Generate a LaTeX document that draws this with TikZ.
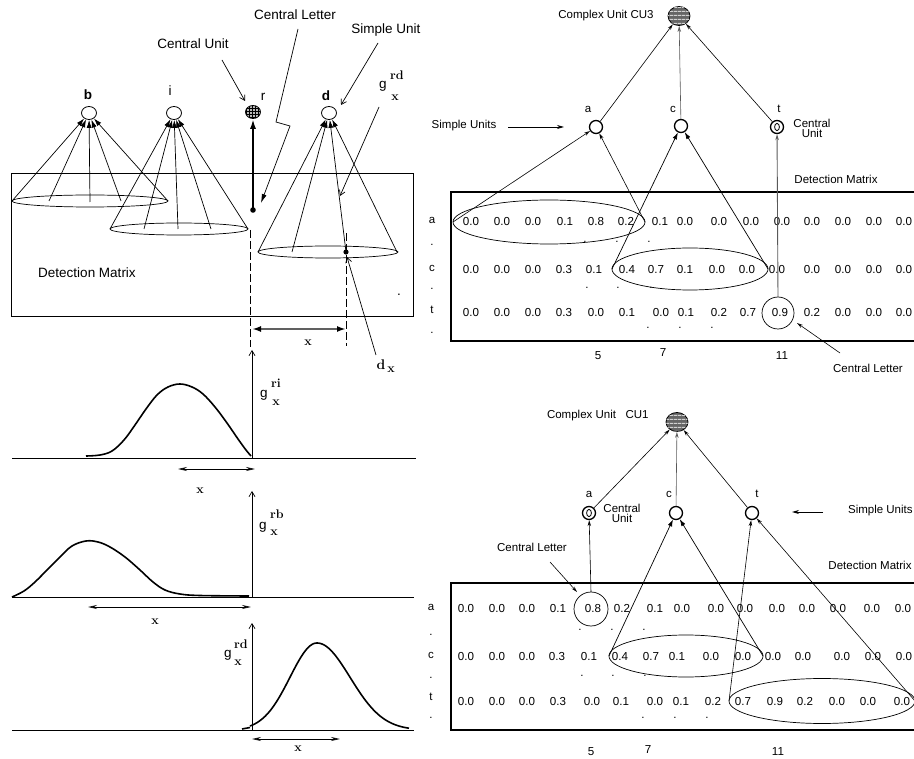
\documentclass[tikz,border=0pt]{standalone}
\usepackage{fontspec}
\newfontfamily\hv{Liberation Sans}
\usetikzlibrary{arrows.meta,patterns,patterns.meta,shapes.geometric}
\begin{document}
\begin{tikzpicture}[x=1pt,y=-1pt,line width=0.7pt,
  every node/.style={inner sep=0pt},
  lt/.style={font=\hv\fontsize{13.5}{14}\selectfont},
  ltb/.style={font=\hv\bfseries\fontsize{13.5}{14}\selectfont},
  rt/.style={font=\hv\fontsize{11.5}{12}\selectfont},
  num/.style={font=\hv\fontsize{11.6}{12}\selectfont},
  sb/.style={font=\bfseries\fontsize{12.5}{13}\selectfont},
  lunit/.style={draw,ellipse,minimum width=15pt,minimum height=13pt,line width=0.8pt},
  su/.style={draw,circle,minimum size=13pt,line width=1.3pt},
  cu/.style={draw,ellipse,minimum width=22pt,minimum height=19pt,line width=0.8pt,fill=black!60,
     postaction={pattern={Lines[angle=0,distance=4pt,line width=1.2pt]},pattern color=gray!35}},
  cone/.style={-{Latex[length=8pt,width=5pt]},line width=0.7pt},
  barb/.style={-{Straight Barb[length=5pt,width=6pt]},line width=0.7pt},
  sarr/.style={-{Stealth[open,length=6pt,width=3.5pt]},line width=0.6pt},
  farr/.style={-{Latex[length=7pt,width=4.5pt]},line width=0.7pt},
  dbl/.style={{Stealth[open,length=9pt,width=4pt]}-{Stealth[open,length=9pt,width=4pt]},line width=0.7pt},
  curve/.style={line width=1.6pt},
  dsh/.style={dash pattern=on 8pt off 3pt,line width=0.7pt}]
\useasboundingbox (0,0) rectangle (914,759);
\clip (0,0) rectangle (914,759);

%%%%%%%%%%%%%%%% LEFT PANEL %%%%%%%%%%%%%%%%
\node[lt] (tcl) at (295,15) {Central Letter};
\node[lt] (tsu) at (386,30) {Simple Unit};
\node[lt] (tcu) at (193,44) {Central Unit};

\node[lunit] (b) at (89,113) {};
\node[lunit] (i) at (174,113) {};
\node[lunit,fill=gray!55,postaction={pattern=grid}] (r) at (253,112) {};
\node[lunit] (d) at (329,113) {};
\node[ltb] (lb) at (88,95) {b};
\node[lt] (li) at (170,91) {i};
\node[lt] (lr) at (263,97) {r};
\node[ltb] (ld) at (326,96) {d};

% g^rd_x label top
\node[lt] (g1) at (383,86) {g};
\node[sb] (g1s) at (397,75) {rd};
\node[sb] (g1x) at (395,98) {x};

% detection matrix
\draw[line width=0.7pt] (11,173) rectangle (413,316);
\node[lt] (tdm) at (87,273) {Detection Matrix};
\node[lt] (sdot) at (399,295) {.};

% b cone
\draw (90,201) ellipse (78 and 6);
\foreach \p/\q in {12/201,49/201,90/202,121/201,168/201}
  \draw[cone] (\p,\q) -- (b);
% i cone
\draw (179,229) ellipse (69 and 6);
\foreach \p in {110,144,178,211,248}
  \draw[cone] (\p,229) -- (i);
% d cone
\draw (328,252) ellipse (70 and 6);
\coordinate (dx) at (346,252);
\foreach \p in {258,292,397}
  \draw[cone] (\p,252) -- (d);
\draw[cone] (dx) -- (d);
\fill (dx) circle (2.6);

% central letter dot and thick arrow
\coordinate (cdot) at (253,210);
\fill (cdot) circle (2.8);
\draw[line width=1.9pt,-{Latex[length=10pt,width=6pt]}] (cdot) -- (r);

% zigzag central letter pointer
\coordinate (z0) at (298,29);
\coordinate (z1) at (276,122);
\coordinate (z2) at (290,126);
\coordinate (z3) at (261,203);
\draw[-{Latex[length=9pt,width=5pt]},line width=0.7pt] (z0) -- (z1) -- (z2) -- (z3);

\coordinate (cu0) at (222,60);
\coordinate (cu1) at (245,101);
\draw[barb] (cu0) -- (cu1);
\coordinate (su0) at (378,43);
\coordinate (su1) at (341,105);
\draw[barb] (su0) -- (su1);
\coordinate (gr0) at (379,107);
\coordinate (gr1) at (340,196);
\draw[barb] (gr0) -- (gr1);
\coordinate (dx0) at (376,355);
\coordinate (dx1) at (347,257);
\draw[barb] (dx0) -- (dx1);
\node[sb,font=\bfseries\fontsize{14}{14}\selectfont] (ldx) at (381,365) {d};
\node[sb] (ldxs) at (391,370) {x};

% dashed verticals and distance arrow
\draw[dsh] (250,230) -- (250,347);
\draw[dsh] (346,233) -- (346,346);
\coordinate (xa) at (252,329);
\coordinate (xb) at (346,329);
\draw[line width=1.9pt,gray!75!black,{Latex[length=9pt,width=6pt,color=black]}-{Latex[length=9pt,width=6pt,color=black]}] (xa) -- (xb);
\node[sb] (lx0) at (308,343) {x};

% plot 1
\draw (12,458) -- (416,458);
\draw[barb] (252,458) -- (252,350);
\draw[curve] plot[smooth,tension=0.6] coordinates {(86,456) (100,455) (112,451) (124,440) (135,425) (146,409) (157,395) (168,387) (180,384) (192,387) (203,394) (215,407) (227,423) (238,439) (246,450) (251,456)};
\node[lt] (g2) at (264,395) {g};
\node[sb] (g2s) at (276,383) {ri};
\node[sb] (g2x) at (276,403) {x};
\draw[dbl] (178,469) -- (255,469);
\node[sb] (lx1) at (200,491) {x};

% plot 2
\draw (12,597) -- (414,597);
\draw[barb] (252,597) -- (252,491);
\draw[curve] plot[smooth,tension=0.6] coordinates {(12,597) (24,591) (35,582) (48,569) (60,557) (72,546) (86,541) (98,542) (110,547) (125,557) (140,570) (153,582) (165,590) (180,594) (200,595.5) (249,596)};
\node[lt] (g3) at (263,527) {g};
\node[sb] (g3s) at (277,514) {rb};
\node[sb] (g3x) at (274,533) {x};
\draw[dbl] (88,607) -- (251,607);
\node[sb] (lx2) at (155,622) {x};

% plot 3
\draw (12,730) -- (414,730);
\draw[barb] (252,730) -- (252,623);
\draw[curve] (242,729) -- (250,727.5)
  plot[domain=250:317,samples=40,smooth] (\x,{730-87*exp(-((\x-317)^2)/(2*27*27))})
  plot[domain=317:409,samples=50,smooth] (\x,{730-87*exp(-((\x-317)^2)/(2*33*33))});
\node[lt] (g4) at (228,655) {g};
\node[sb] (g4s) at (241,644) {rd};
\node[sb] (g4x) at (238,663) {x};
\draw[dbl] (252,739) -- (340,739);
\node[sb] (lx3) at (298,749) {x};

%%%%%%%%%%%%%%%% RIGHT TOP PANEL %%%%%%%%%%%%%%%%
\node[cu] (cu3) at (679,16) {};
\node[rt,anchor=east] (tcu3) at (654,16) {Complex Unit CU3};
\node[su] (a3) at (596,127) {};
\node[su] (c3) at (681,126) {};
\node[su] (t3) at (777,127) {};
\draw[line width=0.8pt] (t3) ellipse (2.4 and 3.6);
\node[rt] (la3) at (588,109) {a};
\node[rt] (lc3) at (673,109) {c};
\node[rt] (lt3) at (779,109) {t};
\draw[sarr] (a3) -- (cu3);
\draw[sarr,gray!70!black] (c3) -- (cu3);
\draw[sarr] (t3) -- (cu3);
\node[rt] (tsu3) at (464,126) {Simple Units};
\coordinate (sa0) at (508,127);
\coordinate (sa1) at (564,127);
\draw[-{Stealth[length=7pt,width=4pt]},line width=0.7pt] (sa0) -- (sa1);
\node[rt,align=center,font=\hv\fontsize{11.5}{10}\selectfont] (tcu3b) at (812,128) {Central\\Unit};
\node[rt] (tdm3) at (836,179) {Detection Matrix};
\draw[line width=1.5pt] (925,192) -- (451,192) -- (451,341) -- (925,341);

\foreach \y/\t in {220/a,245/.,268/c,289/.,310/t,333/.}
  \node[rt] (r3\y) at (432,\y) {\t};

\foreach \x/\v [count=\k] in {471/0.0,502/0.0,533/0.0,565/0.1,596/0.8,626/0.2,660/0.1,685/0.0,719/0.0,751/0.0,782/0.0,812/0.0,843/0.0,874/0.0,904/0.0}
  \node[num] (ua\k) at (\x,222) {\v};
\foreach \x/\v [count=\k] in {471/0.0,502/0.0,533/0.0,564/0.3,594/0.1,627/0.4,656/0.7,685/0.1,717/0.0,747/0.0,777/0.0,812/0.0,843/0.0,874/0.0,904/0.0}
  \node[num] (uc\k) at (\x,270) {\v};
\foreach \x/\v [count=\k] in {471/0.0,502/0.0,533/0.0,564/0.3,596/0.0,627/0.1,661/0.0,686/0.1,719/0.2,748/0.7,780/0.9,812/0.2,843/0.0,874/0.0,904/0.0}
  \node[num] (ut\k) at (\x,313) {\v};
\foreach \x/\y [count=\k] in {585/242,617/242,649/242,587/288,618/288,651/288,648/328,680/328,712/328}
  \node[num] (ud\k) at (\x,\y) {.};
\node[num] (u5) at (598,356) {5};
\node[num] (u7) at (663,353) {7};
\node[num] (u11) at (782,356) {11};
\node[rt] (tcl3) at (868,368) {Central Letter};
\coordinate (cl30) at (840,353);
\coordinate (cl31) at (797,323);
\draw[sarr] (cl30) -- (cl31);

\draw (549,222) ellipse (96 and 22);
\draw (690,269) ellipse (78 and 21);
\draw (778,313) circle (16);
\coordinate (ea3l) at (453,222);
\coordinate (ea3r) at (645,222);
\coordinate (ec3l) at (612,269);
\coordinate (ec3r) at (768,269);
\coordinate (et3) at (778,297);
\draw[sarr] (ea3l) -- (a3);
\draw[sarr] (ea3r) -- (a3);
\draw[farr] (ec3l) -- (c3);
\draw[farr] (ec3r) -- (c3);
\draw[sarr,gray!70!black,line width=0.9pt] (et3) -- (t3);

%%%%%%%%%%%%%%%% RIGHT BOTTOM PANEL %%%%%%%%%%%%%%%%
\node[cu] (cu1) at (677,422) {};
\node[rt,anchor=east] (tcu1) at (649,416) {Complex Unit\ \ \ CU1};
\node[su] (a1) at (589,513) {};
\draw[line width=0.8pt] (a1) ellipse (2.4 and 3.6);
\node[su] (c1) at (676,513) {};
\node[su] (t1) at (752,513) {};
\node[rt] (la1) at (589,494) {a};
\node[rt] (lc1) at (669,494) {c};
\node[rt] (lt1) at (757,494) {t};
\draw[sarr] (a1) -- (cu1);
\draw[sarr,gray!70!black] (c1) -- (cu1);
\draw[sarr] (t1) -- (cu1);
\node[rt,align=center,font=\hv\fontsize{11.5}{10}\selectfont] (tcu1b) at (622,513) {Central\\Unit};
\node[rt,anchor=east] (tsu1) at (913,511) {Simple Units};
\coordinate (sb0) at (823,512);
\coordinate (sb1) at (792,512);
\draw[-{Stealth[length=7pt,width=4pt]},line width=0.7pt] (sb0) -- (sb1);
\node[rt] (tcl1) at (532,547) {Central Letter};
\coordinate (cl10) at (550,562);
\coordinate (cl11) at (577,592);
\draw[sarr] (cl10) -- (cl11);
\node[rt] (tdm1) at (870,565) {Detection Matrix};
\draw[line width=1.5pt] (925,583) -- (451,583) -- (451,730) -- (925,730);

\foreach \y/\t in {607/a,635/.,655/c,678/.,697/t,718/.}
  \node[rt] (r1\y) at (431,\y) {\t};

\foreach \x/\v [count=\k] in {466/0.0,497/0.0,527/0.0,558/0.1,593/0.8,622/0.2,655/0.1,682/0.0,716/0.0,745/0.0,777/0.0,807/0.0,838/0.0,872/0.0,903/0.0}
  \node[num] (va\k) at (\x,609) {\v};
\foreach \x/\v [count=\k] in {466/0.0,497/0.0,527/0.0,557/0.3,589/0.1,620/0.4,651/0.7,677/0.1,711/0.0,743/0.0,773/0.0,803/0.0,842/0.0,873/0.0,904/0.0}
  \node[num] (vc\k) at (\x,657) {\v};
\foreach \x/\v [count=\k] in {466/0.0,497/0.0,527/0.0,558/0.3,592/0.0,621/0.1,655/0.0,681/0.1,713/0.2,743/0.7,775/0.9,805/0.2,837/0.0,868/0.0,902/0.0}
  \node[num] (vt\k) at (\x,702) {\v};
\foreach \x/\y [count=\k] in {580/630,612/630,644/630,582/676,613/676,645/676,643/718,675/718,707/718}
  \node[num] (vd\k) at (\x,\y) {.};
\node[num] (v5) at (591,752) {5};
\node[num] (v7) at (648,750) {7};
\node[num] (v11) at (778,752) {11};

\draw (591,609) circle (17);
\draw (686,656) ellipse (77 and 21);
\draw (822,701) ellipse (93 and 22.5);
\coordinate (ea1) at (591,592);
\coordinate (ec1l) at (609,656);
\coordinate (ec1r) at (763,656);
\coordinate (et1l) at (729,701);
\coordinate (et1r) at (915,701);
\draw[sarr] (ea1) -- (a1);
\draw[farr] (ec1l) -- (c1);
\draw[farr] (ec1r) -- (c1);
\draw[sarr] (et1l) -- (t1);
\draw[sarr] (et1r) -- (t1);
\end{tikzpicture}
\end{document}
